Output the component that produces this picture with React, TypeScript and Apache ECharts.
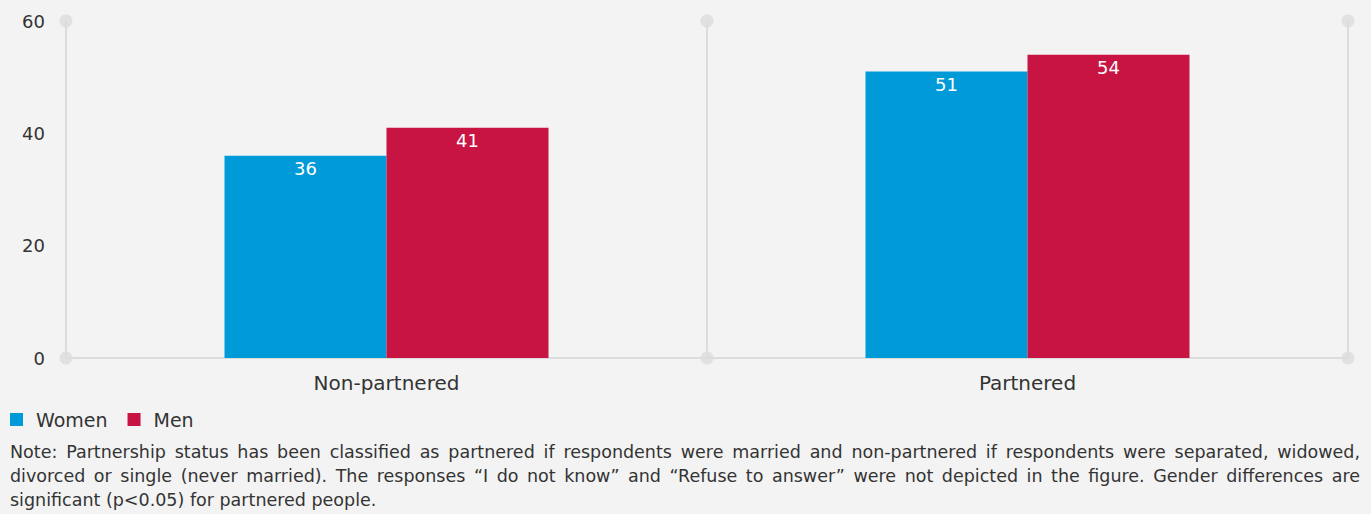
import React, { useEffect, useRef } from "react";
import * as echarts from "echarts";

const categories = ["Non-partnered", "Partnered"];
const women = [36, 51];
const men = [41, 54];
const seriesNames = ["Women", "Men"];
const yTicks = [0, 20, 40, 60];
const noteLines = [
  "Note: Partnership status has been classified as partnered if respondents were married and non-partnered if respondents were separated, widowed,",
  "divorced or single (never married). The responses \u201CI do not know\u201D and \u201CRefuse to answer\u201D were not depicted in the figure. Gender differences are",
  "significant (p<0.05) for partnered people.",
];

const FONT = "'DejaVu Sans', sans-serif";
const NOTE_SIZE = 17.5;
const NOTE_LEFT = 10;
const NOTE_WIDTH = 1350;
const NOTE_TOP = 440;
const NOTE_LH = 24;

function buildNote() {
  const canvas = document.createElement("canvas");
  const ctx = canvas.getContext("2d")!;
  ctx.font = `${NOTE_SIZE}px 'DejaVu Sans'`;
  const spaceW = ctx.measureText(" ").width;
  const children: any[] = [];
  noteLines.forEach((line, li) => {
    const y = NOTE_TOP + li * NOTE_LH;
    const isLast = li === noteLines.length - 1;
    if (isLast) {
      children.push({
        type: "text",
        x: NOTE_LEFT,
        y,
        style: { text: line, fontSize: NOTE_SIZE, fill: "#333", fontFamily: FONT, lineHeight: NOTE_LH, verticalAlign: "top" },
      });
      return;
    }
    const words = line.split(" ");
    const widths = words.map((w) => ctx.measureText(w).width);
    const total = widths.reduce((a, b) => a + b, 0);
    const gap = words.length > 1 ? (NOTE_WIDTH - total) / (words.length - 1) : spaceW;
    let x = NOTE_LEFT;
    words.forEach((w, wi) => {
      children.push({
        type: "text",
        x,
        y,
        style: { text: w, fontSize: NOTE_SIZE, fill: "#333", fontFamily: FONT, lineHeight: NOTE_LH, verticalAlign: "top" },
      });
      x += widths[wi] + gap;
    });
  });
  return { type: "group", children };
}

export default function App() {
  const ref = useRef<HTMLDivElement>(null);
  useEffect(() => {
    document.body.style.margin = "0";
    document.body.style.background = "#f3f3f3";
    const chart = echarts.init(ref.current!, undefined, { renderer: "svg" });
    const dotData: number[][] = [];
    for (let i = 0; i <= categories.length; i++) {
      dotData.push([i, yTicks[0]]);
      dotData.push([i, yTicks[yTicks.length - 1]]);
    }
    chart.setOption({
      animation: false,
      backgroundColor: "#f3f3f3",
      textStyle: { fontFamily: FONT },
      grid: { left: 66, right: 23, top: 21, bottom: 156, containLabel: false },
      legend: {
        left: 5,
        top: 405,
        icon: "rect",
        itemWidth: 13,
        itemHeight: 13,
        itemGap: 20,
        textStyle: { fontSize: 19, color: "#333", fontFamily: FONT, padding: [0, 0, 0, 8] },
        data: seriesNames,
      },
      xAxis: [
        {
          type: "category",
          data: categories,
          axisLine: { show: true, lineStyle: { color: "#dcdcdc", width: 2 } },
          axisTick: { show: false },
          splitLine: { show: true, lineStyle: { color: "#dcdcdc", width: 2 } },
          axisLabel: { fontSize: 20, color: "#333", margin: 15, fontFamily: FONT },
        },
        {
          type: "value",
          min: 0,
          max: categories.length,
          show: false,
        },
      ],
      yAxis: {
        type: "value",
        min: 0,
        max: 60,
        interval: 20,
        axisLine: { show: false },
        axisTick: { show: false },
        splitLine: { show: false },
        axisLabel: { fontSize: 18, color: "#333", margin: 21, fontFamily: FONT },
      },
      series: [
        {
          name: seriesNames[0],
          type: "bar",
          data: women,
          barWidth: 162,
          barGap: "0%",
          itemStyle: { color: "#009ad9" },
          label: {
            show: true,
            position: "insideTop",
            color: "#fff",
            fontSize: 18,
            distance: 4,
            fontFamily: FONT,
          },
        },
        {
          name: seriesNames[1],
          type: "bar",
          data: men,
          barWidth: 162,
          barGap: "0%",
          itemStyle: { color: "#c81442" },
          label: {
            show: true,
            position: "insideTop",
            color: "#fff",
            fontSize: 18,
            distance: 4,
            fontFamily: FONT,
          },
        },
        {
          type: "scatter",
          xAxisIndex: 1,
          data: dotData,
          symbolSize: 13,
          itemStyle: { color: "#dcdcdc" },
          silent: true,
          z: 5,
        },
      ],
      graphic: [buildNote()],
    });
    return () => chart.dispose();
  }, []);
  return <div ref={ref} style={{ width: 1371, height: 514 }} />;
}
